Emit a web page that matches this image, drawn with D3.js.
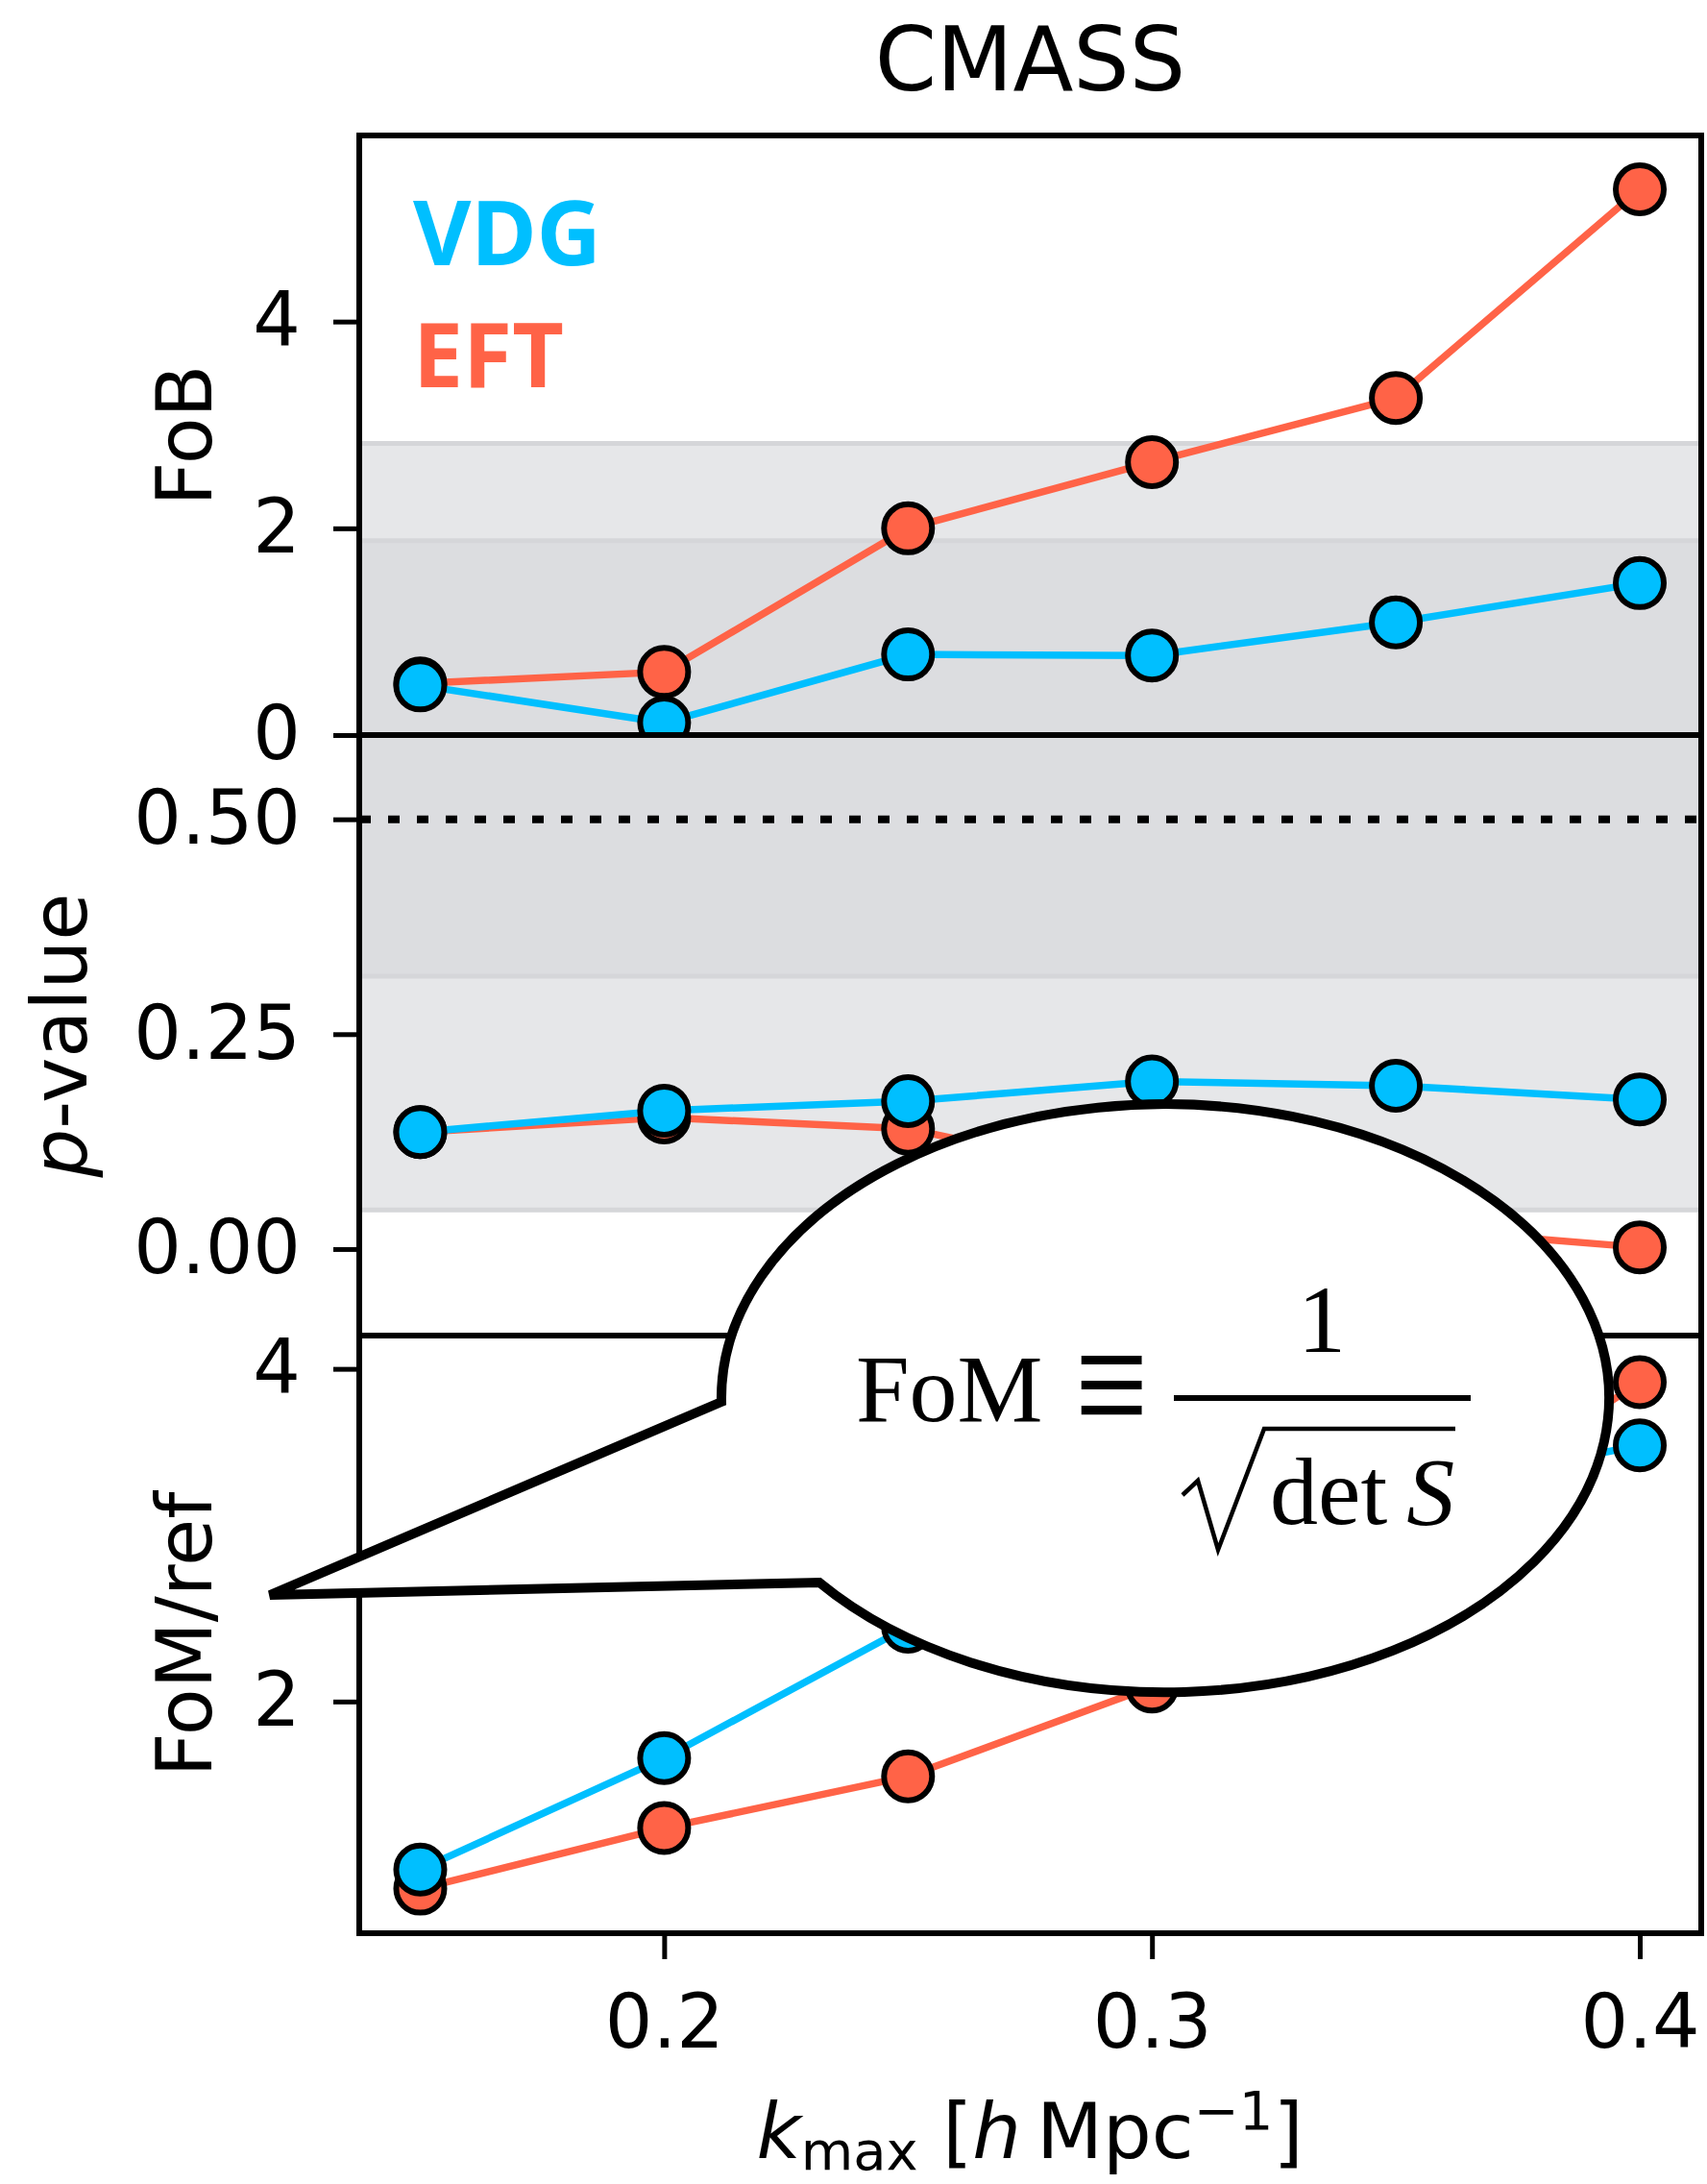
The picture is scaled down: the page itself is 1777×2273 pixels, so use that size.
<!DOCTYPE html>
<html>
<head>
<meta charset="utf-8">
<script src="https://cdn.jsdelivr.net/npm/d3@7"></script>
<style>
  body { margin: 0; background: #ffffff; }
  #main-diagram { width: 1777px; height: 2273px; }
</style>
</head>
<body>
<div id="main-diagram"></div>
<script>
// values (CMASS)
const kmax = [0.15, 0.2, 0.25, 0.3, 0.35, 0.4];

const fobVDG = [0.48, 0.12, 0.78, 0.77, 1.09, 1.47];
const fobEFT = [0.5, 0.61, 2.0, 2.64, 3.26, 5.28];

const pvalueVDG = [0.136, 0.161, 0.172, 0.195, 0.19, 0.174];
const pvalueEFT = [0.136, 0.153, 0.14, 0.08, 0.025, 0.002];

const fomVDG = [0.99, 1.66, 2.45, 2.95, 3.25, 3.54];
const fomEFT = [0.875, 1.24, 1.55, 2.09, 2.95, 3.92];

// shaded regions (1 and 2 sigma)
const fobBands = [1.88, 2.82];
const pvalueBands = [0.3173, 0.0455];

// tick labels
const xTicks = [0.2, 0.3, 0.4];
const fobTicks = [0, 2, 4];
const pvalueTicks = [0, 0.25, 0.5];
const fomTicks = [2, 4];

const modelNames = ["VDG", "EFT"];
const modelColours = ["#00bfff", "#ff6347"];

// layout of the figure
const displayConfiguration = {
  width: 1777,
  height: 2273,
  left: 374,
  right: 1771,
  panels: [
    { top: 141, bottom: 765 },
    { top: 765, bottom: 1390 },
    { top: 1390, bottom: 2012 },
  ],
  tickLength: 27,
  font: "'DejaVu Sans', sans-serif",
  fontSize: 78,
};

const svg = d3
  .select("#main-diagram")
  .append("svg")
  .attr("width", displayConfiguration.width)
  .attr("height", displayConfiguration.height);

const xScale = d3
  .scaleLinear()
  .domain([0.1375, 0.4126])
  .range([displayConfiguration.left, displayConfiguration.right]);

const yFoB = d3
  .scaleLinear()
  .domain([0, 5.8])
  .range([displayConfiguration.panels[0].bottom, displayConfiguration.panels[0].top]);
const yPvalue = d3
  .scaleLinear()
  .domain([-0.1007, 0.598])
  .range([displayConfiguration.panels[1].bottom, displayConfiguration.panels[1].top]);
const yFoM = d3
  .scaleLinear()
  .domain([0.607, 4.2])
  .range([displayConfiguration.panels[2].bottom, displayConfiguration.panels[2].top]);

// title
svg
  .append("text")
  .attr("x", (displayConfiguration.left + displayConfiguration.right) / 2)
  .attr("y", 94)
  .attr("text-anchor", "middle")
  .style("font-family", displayConfiguration.font)
  .style("font-size", "92px")
  .text("CMASS");

drawPanel(0, yFoB, fobVDG, fobEFT, fobTicks, d3.format("d"));
drawPanel(1, yPvalue, pvalueVDG, pvalueEFT, pvalueTicks, d3.format(".2f"));
drawPanel(2, yFoM, fomVDG, fomEFT, fomTicks, d3.format("d"));

drawBands();
drawXAxis();
drawLabels();
drawLegend();
drawBubble();

/**
 * draws one panel: clip area, lines and markers, left axis and the frame
 */
function drawPanel(index, yScale, valuesVDG, valuesEFT, ticks, format) {
  const { left, right, panels, tickLength, font, fontSize } = displayConfiguration;
  const { top, bottom } = panels[index];

  svg
    .append("clipPath")
    .attr("id", "clip-" + index)
    .append("rect")
    .attr("x", left)
    .attr("y", top)
    .attr("width", right - left)
    .attr("height", bottom - top);

  // the bands are added later into this group so that they sit below the lines
  svg.append("g").attr("id", "bands-" + index).attr("clip-path", `url(#clip-${index})`);

  const content = svg.append("g").attr("id", "content-" + index).attr("clip-path", `url(#clip-${index})`);

  // EFT first, VDG on top
  const series = [
    { values: valuesEFT, colour: modelColours[1] },
    { values: valuesVDG, colour: modelColours[0] },
  ];

  const line = d3
    .line()
    .x(function (d) {
      return xScale(d.k);
    })
    .y(function (d) {
      return yScale(d.v);
    });

  for (let s of series) {
    const dataset = kmax.map(function (k, i) {
      return { k: k, v: s.values[i] };
    });
    content
      .append("path")
      .datum(dataset)
      .attr("d", line)
      .style("fill", "none")
      .style("stroke", s.colour)
      .style("stroke-width", 7.5);
    content
      .selectAll(null)
      .data(dataset)
      .enter()
      .append("circle")
      .attr("cx", function (d) {
        return xScale(d.k);
      })
      .attr("cy", function (d) {
        return yScale(d.v);
      })
      .attr("r", 25)
      .attr("fill", s.colour)
      .attr("stroke", "black")
      .attr("stroke-width", 6);
  }

  // left axis
  const axis = svg
    .append("g")
    .attr("class", "axis-" + index)
    .attr("transform", `translate(${left}, 0)`)
    .call(
      d3.axisLeft(yScale).tickValues(ticks).tickFormat(format).tickSize(tickLength).tickPadding(34)
    );
  axis.select(".domain").remove();
  axis.selectAll("line").style("stroke", "black").style("stroke-width", 5);
  axis
    .selectAll("text")
    .style("font-family", font)
    .style("font-size", fontSize + "px")
    .attr("fill", "black");

  // frame
  svg
    .append("rect")
    .attr("class", "frame")
    .attr("x", left)
    .attr("y", top)
    .attr("width", right - left)
    .attr("height", bottom - top)
    .style("fill", "none")
    .style("stroke", "black")
    .style("stroke-width", 6);
}

/**
 * grey sigma bands in the FoB and p-value panels, plus the dotted p = 0.5 line
 */
function drawBands() {
  const { left, right } = displayConfiguration;
  const dark = "#dcdde0";
  const light = "#e6e7e9";
  const edge = "#d5d6d9";

  const fobGroup = d3.select("#bands-0");
  fobGroup
    .append("rect")
    .attr("x", left)
    .attr("width", right - left)
    .attr("y", yFoB(fobBands[1]))
    .attr("height", yFoB(fobBands[0]) - yFoB(fobBands[1]))
    .style("fill", light);
  fobGroup
    .append("rect")
    .attr("x", left)
    .attr("width", right - left)
    .attr("y", yFoB(fobBands[0]))
    .attr("height", yFoB(0) - yFoB(fobBands[0]))
    .style("fill", dark);

  const pGroup = d3.select("#bands-1");
  pGroup
    .append("rect")
    .attr("x", left)
    .attr("width", right - left)
    .attr("y", yPvalue(pvalueBands[0]))
    .attr("height", yPvalue(pvalueBands[1]) - yPvalue(pvalueBands[0]))
    .style("fill", light);
  pGroup
    .append("rect")
    .attr("x", left)
    .attr("width", right - left)
    .attr("y", yPvalue(yPvalue.domain()[1]))
    .attr("height", yPvalue(pvalueBands[0]) - yPvalue(yPvalue.domain()[1]))
    .style("fill", dark);

  // slightly darker edges of the bands
  const edges = [
    { g: fobGroup, y: yFoB(fobBands[0]) },
    { g: fobGroup, y: yFoB(fobBands[1]) },
    { g: pGroup, y: yPvalue(pvalueBands[0]) },
    { g: pGroup, y: yPvalue(pvalueBands[1]) },
  ];
  for (let e of edges) {
    e.g
      .append("line")
      .attr("x1", left)
      .attr("x2", right)
      .attr("y1", e.y)
      .attr("y2", e.y)
      .style("stroke", edge)
      .style("stroke-width", 5);
  }

  pGroup
    .append("line")
    .attr("x1", left)
    .attr("x2", right)
    .attr("y1", yPvalue(0.5))
    .attr("y2", yPvalue(0.5))
    .style("stroke", "black")
    .style("stroke-width", 8)
    .style("stroke-dasharray", "12 18");
}

/**
 * the shared k_max axis at the bottom
 */
function drawXAxis() {
  const { panels, tickLength, font, fontSize } = displayConfiguration;
  const axis = svg
    .append("g")
    .attr("transform", `translate(0, ${panels[2].bottom})`)
    .call(d3.axisBottom(xScale).tickValues(xTicks).tickFormat(d3.format(".1f")).tickSize(tickLength).tickPadding(37));
  axis.select(".domain").remove();
  axis.selectAll("line").style("stroke", "black").style("stroke-width", 5);
  axis
    .selectAll("text")
    .style("font-family", font)
    .style("font-size", fontSize + "px")
    .attr("fill", "black");
}

/**
 * axis labels
 */
function drawLabels() {
  const { panels, font } = displayConfiguration;
  const labelSize = "80px";

  function rotatedLabel(x, y) {
    return svg
      .append("text")
      .attr("transform", `translate(${x}, ${y}) rotate(-90)`)
      .attr("text-anchor", "middle")
      .style("font-family", font)
      .style("font-size", labelSize);
  }

  rotatedLabel(220, (panels[0].top + panels[0].bottom) / 2).text("FoB");

  const pLabel = rotatedLabel(90, (panels[1].top + panels[1].bottom) / 2);
  pLabel.append("tspan").style("font-style", "italic").text("p");
  pLabel.append("tspan").text("-value");

  rotatedLabel(220, (panels[2].top + panels[2].bottom) / 2).text("FoM/ref");

  // k_max [h Mpc^-1]
  const xLabel = svg
    .append("text")
    .attr("x", 1072)
    .attr("y", 2246)
    .attr("text-anchor", "middle")
    .style("font-family", font)
    .style("font-size", labelSize);
  xLabel.append("tspan").style("font-style", "italic").text("k");
  xLabel.append("tspan").attr("dy", 12).style("font-size", "56px").text("max");
  xLabel.append("tspan").attr("dy", -12).text(" [");
  xLabel.append("tspan").style("font-style", "italic").text("h");
  xLabel.append("tspan").text("\u2009Mpc");
  xLabel.append("tspan").attr("dy", -30).style("font-size", "56px").text("\u22121");
  xLabel.append("tspan").attr("dy", 30).text("]");
}

/**
 * coloured model names in the top panel
 */
function drawLegend() {
  const baselines = [276, 403];
  for (let i in modelNames) {
    svg
      .append("text")
      .attr("x", 430)
      .attr("y", baselines[i])
      .style("font-family", "'Noto Sans', sans-serif")
      .style("font-weight", "bold")
      .style("font-size", "93px")
      .style("fill", modelColours[i])
      .text(modelNames[i]);
  }
}

/**
 * speech bubble with the FoM definition
 */
function drawBubble() {
  const rx = 462,
    ry = 306;
  const start = [751, 1459];
  const tip = [281, 1660];
  const back = [853, 1647];

  const g = svg.append("g").attr("class", "bubble");
  g.append("path")
    .attr(
      "d",
      `M ${start[0]} ${start[1]} L ${tip[0]} ${tip[1]} L ${back[0]} ${back[1]} A ${rx} ${ry} 0 1 0 ${start[0]} ${start[1]} Z`
    )
    .style("fill", "white")
    .style("stroke", "black")
    .style("stroke-width", 10)
    .style("stroke-linejoin", "miter");

  const serif = "'Liberation Serif', 'DejaVu Serif', serif";
  g.append("text")
    .attr("x", 891)
    .attr("y", 1479)
    .style("font-family", serif)
    .style("font-size", "100px")
    .text("FoM");
  // identity sign, stretched a little vertically like the reference
  g.append("text")
    .attr("transform", "translate(1157, 1456) scale(1, 1.35)")
    .attr("x", 0)
    .attr("y", 34)
    .attr("text-anchor", "middle")
    .style("font-family", serif)
    .style("font-size", "135px")
    .text("\u2261");
  g.append("text")
    .attr("x", 1376)
    .attr("y", 1407)
    .attr("text-anchor", "middle")
    .style("font-family", serif)
    .style("font-size", "100px")
    .text("1");
  // fraction bar
  g.append("line")
    .attr("x1", 1222)
    .attr("x2", 1531)
    .attr("y1", 1455)
    .attr("y2", 1455)
    .style("stroke", "black")
    .style("stroke-width", 6);
  // radical sign
  g.append("path")
    .attr("d", "M 1231 1556 L 1247 1541 L 1268 1613 L 1316 1487 L 1515 1487")
    .style("fill", "none")
    .style("stroke", "black")
    .style("stroke-width", 4.5)
    .style("stroke-linejoin", "miter");
  const det = g
    .append("text")
    .attr("x", 1322)
    .attr("y", 1586)
    .style("font-family", serif)
    .style("font-size", "100px");
  det.append("tspan").text("det\u2009");
  det.append("tspan").style("font-style", "italic").text("S");
}
</script>
</body>
</html>
